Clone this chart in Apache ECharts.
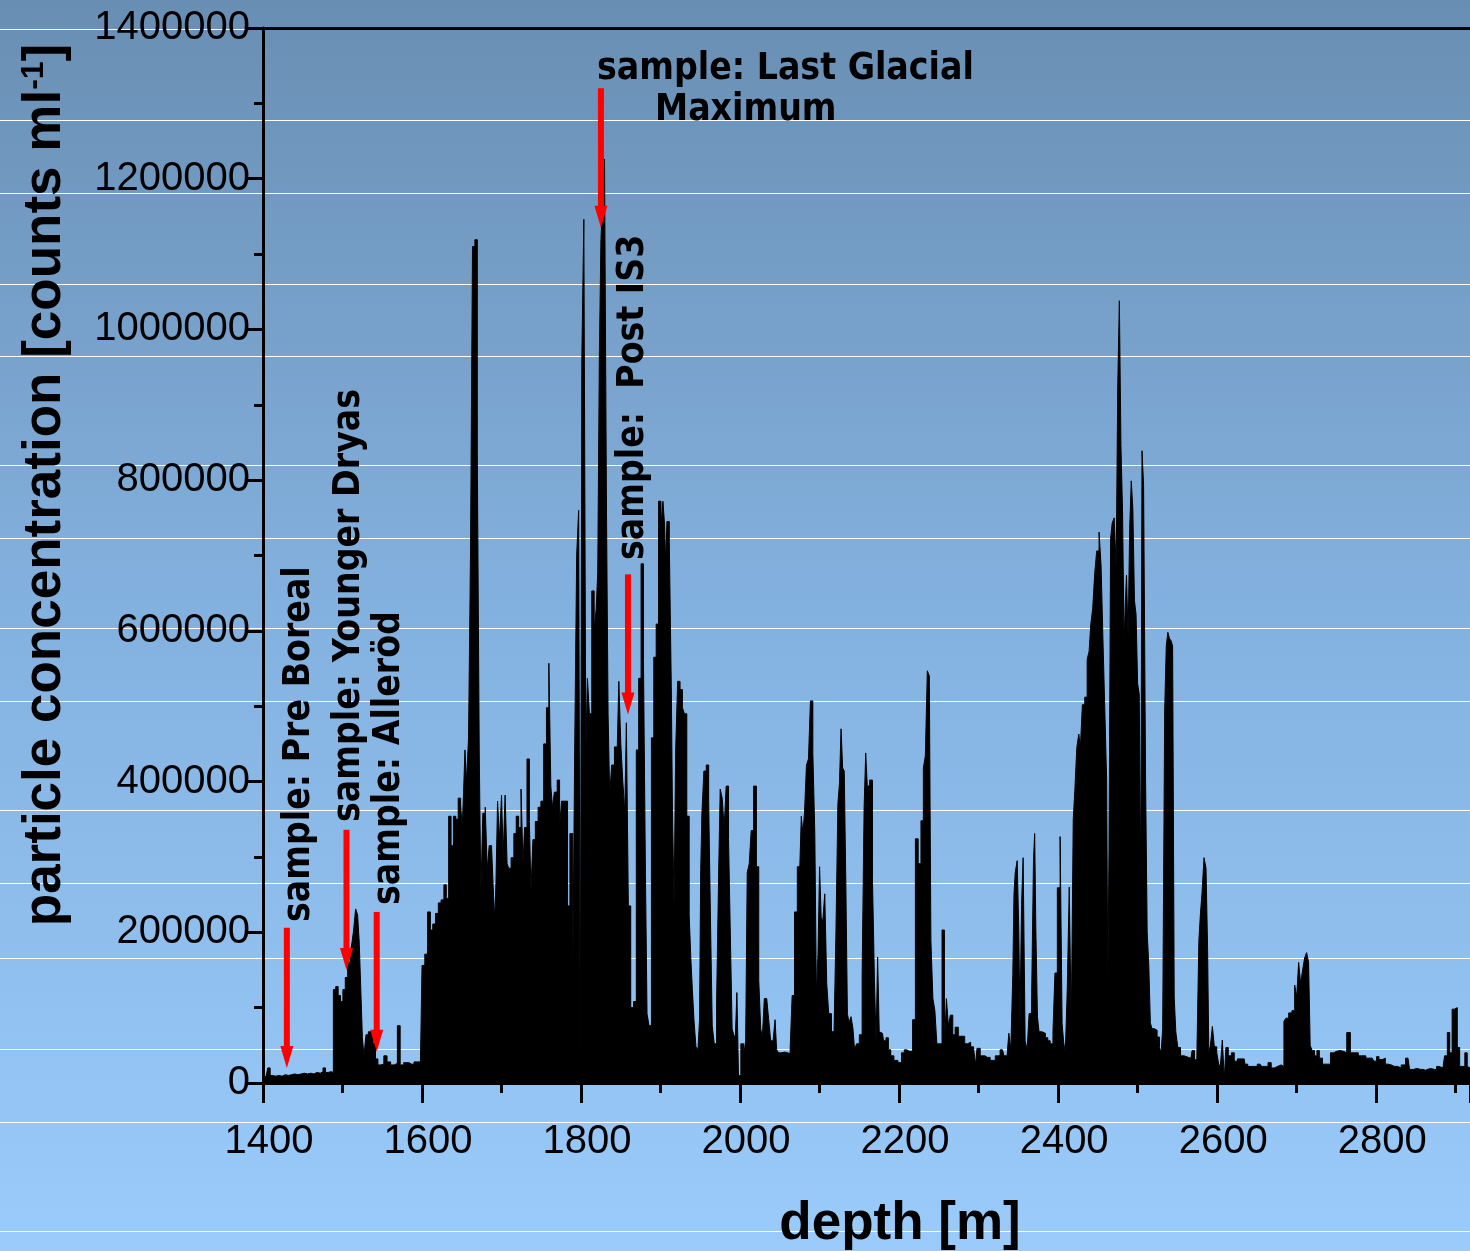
<!DOCTYPE html>
<html>
<head>
<meta charset="utf-8">
<title>Particle concentration vs depth</title>
<script src="https://cdn.jsdelivr.net/npm/echarts@6/dist/echarts.min.js"></script>
<style>
  html, body { margin: 0; padding: 0; }
  #chart { width: 1470px; height: 1251px; }
</style>
</head>
<body>
<div id="chart"></div>
<script>
// Depth of each measurement [m]
const depth = [
  1400,1404,1408,1410,1414,1418,1422,1426,1430,1434,1438,1442,1446,1450,1454,1458,1462,1466,1470,1474,1477,1480,1484,1487,
  1490,1493,1496,1499,1502,1505,1508,1511,1513,1515,1518,1520,1522,1524,1526,1528,1531,1534,1537,1540,1543,1546,1550,1554,
  1558,1563,1567,1571,1574,1580,1587,1593,1598,1602,1605,1609,1612,1615,1619,1622,1626,1629,1632,1635,1638,1641,1644,1647,1650,
  1651,1653,1655,1657,1660,1662,1665,1668,1671,1673,1675,1678,1681,1683,1686,1689,1691,1692,1694,1696,1699,1701,1703,1706,
  1708,1710,1714,1717,1720,1723,1726,1728,1730,1734,1736,1738,1741,1744,1748,1751,1755,1758,1761,1763,1765,1768,1772,1774,
  1777,1782,1784,1788,1791,1793,1796,1798,1800,1802,1805,1807,1809,1812,1815,1818,1820,1822,1824,1826,1828,1831,1833,1835,
  1837,1840,1844,1846,1849,1851,1854,1856,1858,1861,1864,1868,1871,1874,1877,1880,1882,1884,1887,1890,1893,1896,1899,1902,
  1904,1906,1907,1909,1913,1914,1916,1918,1920,1923,1926,1929,1931,1935,1937,1939,1941,1943,1946,1948,1950,1951,1953,1956,
  1959,1962,1964,1966,1969,1972,1974,1976,1979,1981,1984,1987,1989,1991,1993,1995,1997,1999,2003,2006,2008,2010,2013,2015,
  2019,2022,2025,2027,2029,2032,2035,2037,2040,2043,2045,2047,2050,2054,2058,2062,2064,2067,2070,2074,2076,2078,2080,2082,
  2085,2087,2090,2093,2095,2097,2099,2101,2103,2105,2108,2110,2113,2117,2119,2122,2124,2126,2128,2130,2132,2134,2136,2138,
  2141,2143,2145,2148,2152,
  2155,2157,2159,2161,2165,2168,2170,2172,2174,2176,2179,2182,2185,2188,2191,2196,2201,2205,2208,2211,2215,2219,2222,2226,
  2229,2232,2234,2237,2239,2241,2244,2246,2249,2252,2256,2258,2261,2263,2266,2269,2272,2277,2281,2284,2288,2292,2295,2297,
  2299,2305,2311,2318,2324,2330,2334,2337,2339,2342,2344,2345,2347,2350,2351,2353,2355,2357,2360,2362,2365,2368,2370,2371,
  2373,2375,2377,2382,2386,2388,2392,2395,2397,2401,2404,
  2406,2408,2410,2413,2415,2418,2420,2422,2425,2427,2429,2432,2435,2438,2440,2442,2445,2447,2450,2453,2455,2458,2460,2462,
  2463,2465,2467,2469,2472,2474,2476,2478,2480,2482,2484,2485,2487,2489,2491,2493,2495,2497,2499,2501,2503,2505,2506,2509,
  2511,2513,2515,2517,2519,2523,2526,2529,2530,2533,2535,2537,2539,2541,2543,2545,2547,2549,2552,2556,2561,2567,2570,2573,
  2576,2578,2580,2582,2585,2587,2589,2590,2593,2595,2598,2601,2603,2605,2608,2610,2612,2616,2620,2623,2628,2634,2636,2641,
  2647,2654,
  2658,2662,2666,2670,2674,2678,2683,2685,2688,2692,2696,2699,2701,2704,2706,2709,2711,2714,2716,2718,2721,2724,2727,2730,
  2735,2740,2745,2748,2752,2757,2761,2765,2770,2775,2780,2784,2790,2795,2799,2802,2805,2810,2813,2817,2821,2825,2829,2834,
  2840,2844,2850,2856,2862,2867,2873,2879,2884,2888,2891,2894,2897,2900,2904,2906,2910,2913,2916,2918
];

// Particle concentration [counts ml-1]
const concentration = [
  8000,9000,20000,10000,9000,10000,9000,11000,10000,11000,12000,11000,12000,13000,12000,13000,12000,14000,13000,15000,20000,14000,15000,14000,
  124000,128000,116000,108000,124000,140000,160000,171000,187000,203000,231000,223000,187000,124000,60000,36000,64000,68000,66000,52000,32000,24000,25000,36000,
  28000,24000,26000,76000,24000,27000,25000,28000,28000,156000,171000,227000,203000,211000,225000,239000,243000,263000,245000,354000,315000,354000,350000,378000,370000,
  339000,378000,442000,400000,458000,705000,1110000,1119000,836000,434000,251000,358000,366000,283000,315000,312000,247000,219000,267000,374000,323000,382000,300000,382000,
  291000,285000,299000,331000,354000,339000,390000,291000,339000,430000,347000,255000,323000,347000,366000,374000,450000,498000,557000,394000,366000,386000,402000,340000,
  374000,374000,235000,331000,132000,442000,701000,760000,8000,963000,1146000,442000,537000,490000,653000,601000,629000,677000,963000,1119000,1166000,1226000,760000,490000,
  382000,422000,446000,420000,533000,450000,400000,360000,478000,235000,100000,108000,442000,537000,689000,561000,275000,92000,76000,458000,565000,609000,772000,740000,
  772000,741000,689000,745000,717000,526000,358000,235000,442000,533000,522000,498000,490000,354000,223000,167000,124000,84000,48000,44000,84000,283000,358000,414000,
  422000,374000,203000,76000,52000,108000,275000,390000,378000,339000,394000,323000,183000,72000,64000,60000,120000,10000,52000,36000,56000,279000,291000,335000,
  394000,287000,136000,72000,60000,112000,112000,84000,56000,56000,84000,44000,40000,41000,40000,39000,46000,116000,227000,287000,283000,354000,331000,358000,
  422000,430000,507000,438000,331000,116000,171000,287000,219000,215000,251000,132000,92000,68000,60000,195000,370000,398000,470000,418000,414000,267000,92000,80000,
  88000,72000,44000,52000,64000,
  144000,366000,438000,394000,402000,271000,136000,56000,167000,68000,66000,56000,60000,44000,36000,30000,27000,40000,44000,42000,42000,84000,324000,291000,
  348000,418000,434000,547000,540000,189000,112000,96000,52000,52000,203000,48000,112000,76000,90000,64000,74000,62000,62000,52000,54000,48000,50000,24000,
  46000,36000,34000,30000,36000,44000,36000,32000,66000,44000,144000,251000,279000,295000,203000,80000,237000,299000,56000,44000,92000,101000,295000,331000,
  203000,88000,68000,66000,60000,56000,52000,68000,146000,259000,327000,
  79000,54000,40000,125000,260000,72000,349000,388000,445000,463000,445000,502000,512000,562000,573000,608000,630000,676000,706000,731000,687000,583000,484000,402000,
  132000,310000,722000,743000,750000,683000,925000,1038000,846000,760000,583000,637000,674000,591000,736000,799000,761000,640000,622000,530000,516000,260000,839000,793000,
  402000,200000,157000,80000,72000,70000,61000,47000,40000,72000,495000,580000,598000,590000,587000,580000,114000,68000,47000,36000,34000,33000,43000,31000,
  36000,189000,225000,253000,299000,285000,178000,40000,50000,75000,48000,40000,25000,22000,57000,5000,47000,36000,40000,29000,32000,32000,25000,22000,
  22000,25000,
  22000,22000,27000,20000,22000,24000,22000,82000,86000,93000,96000,130000,114000,160000,132000,150000,166000,173000,160000,50000,43000,36000,43000,33000,
  25000,25000,40000,42000,43000,42000,40000,67000,40000,40000,36000,36000,33000,33000,29000,35000,31000,33000,25000,24000,22000,22000,20000,24000,
  33000,18000,19000,18000,17000,19000,18000,22000,20000,36000,67000,40000,98000,100000,47000,22000,22000,40000,22000,20000
];

// Axis ranges and tick spacing
const depthRange = [1400, 2918];
const depthStep = 200;
const concRange = [0, 1400000];
const concStep = 200000;

// Sampled ice sections: arrow from tail value down to tip value at the given depth
const samples = [
  { name: 'sample: Pre Boreal',       depth: 1430, tail: 206000,  tip: 20000 },
  { name: 'sample: Younger Dryas',    depth: 1505, tail: 336000,  tip: 150000 },
  { name: 'sample: Alleröd',          depth: 1543, tail: 227000,  tip: 41500 },
  { name: 'sample:  Post IS3',        depth: 1859, tail: 675000,  tip: 489000 },
  { name: 'sample: Last Glacial',     depth: 1825, tail: 1320000, tip: 1135000 }
];

const seriesData = depth.map((d, i) => [d, concentration[i]]);

const chart = echarts.init(document.getElementById('chart'), null, { renderer: 'canvas' });

const axisFont = 'Liberation Sans';
const noteFont = 'bold 37px "DejaVu Sans Condensed", "DejaVu Sans", sans-serif';
const titleFont = 'bold 53px "Liberation Sans", Arial, sans-serif';
const plainNumber = v => String(Math.round(v));

// Page background: vertical blue gradient with thin white rules
const bgLines = [29, 120, 193, 284, 356, 465, 538, 628, 701, 810, 883, 958, 1049, 1122, 1231];
const bgElements = [{
  type: 'rect', id: 'bg', z: -20, silent: true,
  shape: { x: 0, y: 0, width: 1470, height: 1251 },
  style: {
    fill: new echarts.graphic.LinearGradient(0, 0, 0, 1, [
      { offset: 0, color: '#698eb3' },
      { offset: 0.5, color: '#84b2e0' },
      { offset: 1, color: '#9acbfa' }
    ])
  }
}].concat(bgLines.map((y, i) => ({
  type: 'line', id: 'rule' + i, z: -19, silent: true,
  shape: { x1: 0, y1: y + 0.5, x2: 1470, y2: y + 0.5 },
  style: { stroke: '#ffffff', lineWidth: 1.2 }
})));

const titleElements = [
  {
    type: 'text', id: 'ytitle', z: 50, silent: true,
    x: 45, y: 485, rotation: Math.PI / 2,
    style: {
      text: 'particle concentration [counts ml{sup|-1}]',
      font: titleFont, fill: '#000', align: 'center', verticalAlign: 'middle',
      rich: { sup: { font: 'bold 32px "Liberation Sans", Arial, sans-serif', verticalAlign: 'top', fill: '#000' } }
    }
  },
  {
    type: 'text', id: 'xtitle', z: 50, silent: true,
    x: 900, y: 1224,
    style: { text: 'depth [m]', font: titleFont, fill: '#000', align: 'center', verticalAlign: 'middle' }
  }
];

chart.setOption({
  animation: false,
  backgroundColor: 'transparent',
  grid: { left: 263, top: 28, right: 0, bottom: 168, containLabel: false },
  xAxis: [{
    type: 'value',
    min: depthRange[0], max: depthRange[1], interval: depthStep,
    axisLine: { show: true, onZero: false, lineStyle: { color: '#000', width: 3 } },
    axisTick: { show: true, inside: false, length: 20, lineStyle: { color: '#000', width: 3 } },
    minorTick: { show: true, splitNumber: 2, length: 10, lineStyle: { color: '#000', width: 3 } },
    axisLabel: {
      color: '#000', fontSize: 40, fontFamily: axisFont, margin: 39,
      showMaxLabel: false, padding: [0, 0, 0, 12], formatter: plainNumber
    },
    splitLine: { show: false }
  }, {
    type: 'value', position: 'top',
    min: depthRange[0], max: depthRange[1],
    axisLine: { show: true, onZero: false, lineStyle: { color: '#000', width: 3 } },
    axisTick: { show: false }, axisLabel: { show: false }, splitLine: { show: false }
  }],
  yAxis: {
    type: 'value',
    min: concRange[0], max: concRange[1], interval: concStep,
    axisLine: { show: true, onZero: false, lineStyle: { color: '#000', width: 3 } },
    axisTick: { show: true, inside: false, length: 16, lineStyle: { color: '#000', width: 3 } },
    minorTick: { show: true, splitNumber: 2, length: 9, lineStyle: { color: '#000', width: 3 } },
    axisLabel: { color: '#000', fontSize: 40, fontFamily: axisFont, margin: 13, formatter: plainNumber },
    splitLine: { show: false }
  },
  series: [{
    type: 'line',
    xAxisIndex: 0, yAxisIndex: 0,
    data: seriesData,
    step: 'middle',
    showSymbol: false,
    lineStyle: { color: '#000', width: 1 },
    areaStyle: { color: '#000', opacity: 1 },
    z: 2
  }],
  graphic: { elements: bgElements.concat(titleElements) }
});

// Red arrows and labels for the sampled sections, placed through the axes
const headLen = 22, headHalf = 6.5;
const arrowEls = [];
samples.forEach((s, i) => {
  const tail = chart.convertToPixel({ seriesIndex: 0 }, [s.depth, s.tail]);
  const tip = chart.convertToPixel({ seriesIndex: 0 }, [s.depth, s.tip]);
  arrowEls.push({
    type: 'line', id: 'shaft' + i, z: 60, silent: true,
    shape: { x1: tail[0], y1: tail[1], x2: tip[0], y2: tip[1] - headLen + 2 },
    style: { stroke: '#ff0000', lineWidth: 6 }
  });
  arrowEls.push({
    type: 'polygon', id: 'head' + i, z: 60, silent: true,
    shape: { points: [[tip[0] - headHalf, tip[1] - headLen], [tip[0] + headHalf, tip[1] - headLen], [tip[0], tip[1]]] },
    style: { fill: '#ff0000' }
  });
});

const noteEls = [
  { id: 'n0', text: samples[0].name, x: 299, y: 922, rot: true },
  { id: 'n1', text: samples[1].name, x: 349, y: 822, rot: true },
  { id: 'n2', text: samples[2].name, x: 389, y: 905, rot: true },
  { id: 'n3', text: samples[3].name, x: 633, y: 560, rot: true },
  { id: 'n4', text: samples[4].name, x: 597, y: 69, rot: false },
  { id: 'n5', text: 'Maximum', x: 655, y: 110, rot: false }
].map(n => ({
  type: 'text', id: n.id, z: 60, silent: true,
  x: n.x, y: n.y, rotation: n.rot ? Math.PI / 2 : 0,
  style: { text: n.text, font: noteFont, fill: '#000', align: 'left', verticalAlign: 'middle' }
}));

chart.setOption({ graphic: { elements: arrowEls.concat(noteEls) } });
</script>
</body>
</html>
